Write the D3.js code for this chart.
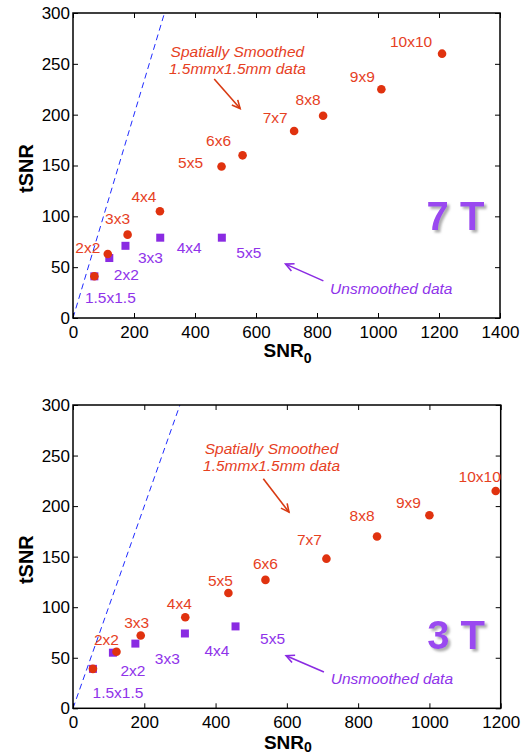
<!DOCTYPE html>
<html>
<head>
<meta charset="utf-8">
<script src="https://cdn.jsdelivr.net/npm/d3@7/dist/d3.min.js"></script>
<style>
  html, body { margin: 0; padding: 0; background: #fff; }
  svg { display: block; font-family: "Liberation Sans", Arial, sans-serif; }
</style>
</head>
<body>
<svg id="chart" width="530" height="755"></svg>
<script>
const smoothLabels = ['1.5x1.5', '2x2', '3x3', '4x4', '5x5', '6x6', '7x7', '8x8', '9x9', '10x10'];
const unsmoothLabels = ['1.5x1.5', '2x2', '3x3', '4x4', '5x5'];

const smooth7X = [70, 114, 179, 285, 487, 556, 725, 820, 1011, 1210];
const smooth7Y = [41, 63, 82, 105, 149, 160, 184, 199, 225, 260];
const unsmooth7X = [70, 119, 172, 286, 488];
const unsmooth7Y = [41, 59, 71, 79, 79];

const smooth3X = [56, 122, 190, 315, 436, 540, 711, 853, 1000, 1186];
const smooth3Y = [39, 56, 72, 90, 114, 127, 148, 170, 191, 215];
const unsmooth3X = [56, 112, 175, 314, 456];
const unsmooth3Y = [39, 55, 64, 74, 81];

const xTicks7 = [0, 200, 400, 600, 800, 1000, 1200, 1400];
const xTicks3 = [0, 200, 400, 600, 800, 1000, 1200];
const yTicks = [0, 50, 100, 150, 200, 250, 300];

const RED = '#e0320f';
const RED_TXT = '#e6411f';
const PURPLE = '#8a2be2';
const PURPLE_TXT = '#8f33ea';

// label offsets in px (dx, dy) from each marker
const smooth7Off = [null, [-20, -6], [-10, -16], [-16, -15], [-31, -4], [-24, -15], [-19, -13], [-15, -16], [-19, -13], [-31, -12]];
const unsmooth7Off = [[16, 21], [17, 16], [25, 12], [29, 10], [27, 15]];
const smooth3Off = [null, [-10, -12], [-4, -13], [-6, -14], [-8, -13], [0, -16], [-17, -19], [-15, -21], [-21, -13], [-16, -14]];
const unsmooth3Off = [[25, 24], [20, 18], [32, 15], [32, 17], [37, 12]];

const svg = d3.select('#chart');

// grey drop shadow for the field strength tags
const shadow = svg.append('defs').append('filter').attr('id', 'shadow')
  .attr('x', '-20%').attr('y', '-20%').attr('width', '140%').attr('height', '140%');
shadow.append('feDropShadow')
  .attr('dx', 2.5).attr('dy', 2.5).attr('stdDeviation', 1.2)
  .attr('flood-color', '#9a9a9a').attr('flood-opacity', 0.8);

function panel(cfg) {
  const x = d3.scaleLinear().domain([0, cfg.xMax]).range([cfg.left, cfg.right]);
  const y = d3.scaleLinear().domain([0, 300]).range([cfg.bottom, cfg.top]);
  const g = svg.append('g');

  // identity line tSNR = SNR0
  g.append('line')
    .attr('x1', x(0)).attr('y1', y(0))
    .attr('x2', x(300)).attr('y2', y(300))
    .attr('stroke', '#1f2bff').attr('stroke-width', 1)
    .attr('stroke-dasharray', '6,4');

  const ax = (gen, tx, ty) => g.append('g')
    .attr('transform', 'translate(' + tx + ',' + ty + ')')
    .call(gen)
    .call((s) => s.select('.domain').remove())
    .call((s) => s.selectAll('line').attr('stroke', '#000'))
    .call((s) => s.selectAll('text').attr('font-size', 17).attr('fill', '#000').attr('font-family', '"Liberation Sans", Arial, sans-serif'));

  ax(d3.axisBottom(x).tickValues(cfg.xTicks).tickFormat(d3.format('d')).tickSizeInner(-5).tickSizeOuter(0).tickPadding(8), 0, cfg.bottom);
  ax(d3.axisTop(x).tickValues(cfg.xTicks).tickFormat('').tickSizeInner(-5).tickSizeOuter(0), 0, cfg.top);
  ax(d3.axisLeft(y).tickValues(yTicks).tickFormat(d3.format('d')).tickSizeInner(-5).tickSizeOuter(0).tickPadding(3), cfg.left, 0);
  ax(d3.axisRight(y).tickValues(yTicks).tickFormat('').tickSizeInner(-5).tickSizeOuter(0), cfg.right, 0);

  g.append('rect')
    .attr('x', cfg.left).attr('y', cfg.top)
    .attr('width', cfg.right - cfg.left).attr('height', cfg.bottom - cfg.top)
    .attr('fill', 'none').attr('stroke', '#000').attr('stroke-width', 1.5);

  // unsmoothed (purple squares)
  const sq = 8;
  g.selectAll('rect.un').data(cfg.ux).enter().append('rect')
    .attr('class', 'un')
    .attr('x', (d) => x(d) - sq / 2)
    .attr('y', (d, i) => y(cfg.uy[i]) - sq / 2)
    .attr('width', sq).attr('height', sq)
    .attr('fill', PURPLE);

  // smoothed (red circles)
  g.selectAll('circle.sm').data(cfg.sx).enter().append('circle')
    .attr('class', 'sm')
    .attr('cx', (d) => x(d))
    .attr('cy', (d, i) => y(cfg.sy[i]))
    .attr('r', 4.3)
    .attr('fill', RED);

  const lbl = (xs, ys, labels, offs, color) => {
    labels.forEach((t, i) => {
      if (!offs[i]) return;
      g.append('text')
        .attr('x', x(xs[i]) + offs[i][0])
        .attr('y', y(ys[i]) + offs[i][1])
        .attr('text-anchor', 'middle')
        .attr('dominant-baseline', 'central')
        .attr('font-size', 15.5)
        .attr('fill', color)
        .text(t);
    });
  };
  lbl(cfg.sx, cfg.sy, smoothLabels, cfg.sOff, RED_TXT);
  lbl(cfg.ux, cfg.uy, unsmoothLabels, cfg.uOff, PURPLE_TXT);

  // annotations
  const a = cfg.ann;
  const note = (lines, px, py, anchor, color) => {
    lines.forEach((t, i) => {
      g.append('text')
        .attr('x', x(px)).attr('y', y(py) + i * 17)
        .attr('text-anchor', anchor)
        .attr('dominant-baseline', 'central')
        .attr('font-size', 15.5).attr('font-style', 'italic')
        .attr('fill', color)
        .text(t);
    });
  };
  const arrow = (p0, p1, color) => {
    const x0 = x(p0[0]), y0 = y(p0[1]), x1 = x(p1[0]), y1 = y(p1[1]);
    const ang = Math.atan2(y1 - y0, x1 - x0);
    const L = 9, w = 0.45;
    g.append('line').attr('x1', x0).attr('y1', y0).attr('x2', x1).attr('y2', y1)
      .attr('stroke', color).attr('stroke-width', 1.6);
    g.append('path')
      .attr('d', 'M' + (x1 - L * Math.cos(ang - w)) + ',' + (y1 - L * Math.sin(ang - w)) +
        'L' + x1 + ',' + y1 +
        'L' + (x1 - L * Math.cos(ang + w)) + ',' + (y1 - L * Math.sin(ang + w)))
      .attr('fill', 'none').attr('stroke', color).attr('stroke-width', 1.6);
  };
  note(['Spatially Smoothed', '1.5mmx1.5mm data'], a.smText[0], a.smText[1], 'middle', RED_TXT);
  arrow(a.smArrow[0], a.smArrow[1], '#d83a12');
  note(['Unsmoothed data'], a.unText[0], a.unText[1], 'start', PURPLE_TXT);
  arrow(a.unArrow[0], a.unArrow[1], PURPLE);

  // field strength tag
  g.append('text').attr('x', x(a.tag[0])).attr('y', y(a.tag[1]))
    .attr('text-anchor', 'middle').attr('dominant-baseline', 'central')
    .attr('font-size', 40).attr('font-weight', 'bold')
    .attr('fill', '#9a48f0').attr('filter', 'url(#shadow)')
    .text(cfg.tag);

  // axis titles
  g.append('text')
    .attr('transform', 'translate(33,' + ((cfg.top + cfg.bottom) / 2 + 3) + ') rotate(-90)')
    .attr('text-anchor', 'middle')
    .attr('font-size', 20).attr('font-weight', 'bold')
    .text('tSNR');
  const xt = g.append('text')
    .attr('x', (cfg.left + cfg.right) / 2 + 1)
    .attr('y', cfg.bottom + cfg.titleDy)
    .attr('text-anchor', 'middle')
    .attr('font-size', 19).attr('font-weight', 'bold');
  xt.append('tspan').text('SNR');
  xt.append('tspan').attr('font-size', 14).attr('dy', cfg.subDy).text('0');
}

panel({
  left: 73, right: 500, top: 13, bottom: 318, xMax: 1400, xTicks: xTicks7, titleDy: 39, subDy: 6,
  sx: smooth7X, sy: smooth7Y, ux: unsmooth7X, uy: unsmooth7Y,
  sOff: smooth7Off, uOff: unsmooth7Off, tag: '7 T',
  ann: {
    smText: [539, 262], smArrow: [[463, 235], [548, 206]],
    unText: [843, 29], unArrow: [[821, 36.5], [697, 53]],
    tag: [1254, 100]
  }
});

panel({
  left: 73, right: 500.7, top: 405, bottom: 708.3, xMax: 1200, xTicks: xTicks3, titleDy: 41, subDy: 3,
  sx: smooth3X, sy: smooth3Y, ux: unsmooth3X, uy: unsmooth3Y,
  sOff: smooth3Off, uOff: unsmooth3Off, tag: '3 T',
  ann: {
    smText: [557, 257], smArrow: [[534, 227], [606, 194]],
    unText: [723, 29], unArrow: [[704, 36], [598, 52]],
    tag: [1075, 72.5]
  }
});
</script>
</body>
</html>
